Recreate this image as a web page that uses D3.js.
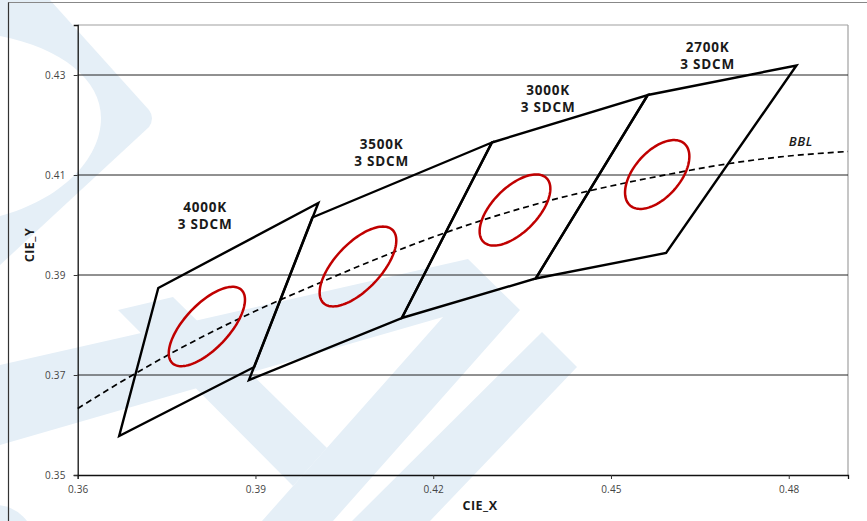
<!DOCTYPE html>
<html>
<head>
<meta charset="utf-8">
<script src="https://cdn.jsdelivr.net/npm/d3@7"></script>
<style>
  html, body { margin: 0; padding: 0; background: #fff; }
  svg { display: block; font-family: "Open Sans", sans-serif; }
</style>
</head>
<body>
<div id="chart"></div>
<script>
// ANSI C78.377 quadrangles, corners in order: top-left, top-right, bottom-right, bottom-left
const cctNames = ["4000K", "3500K", "3000K", "2700K"];
const quadX = [
    [0.3736, 0.4006, 0.3898, 0.3670],
    [0.3996, 0.4299, 0.4147, 0.3889],
    [0.4299, 0.4562, 0.4373, 0.4147],
    [0.4562, 0.4813, 0.4593, 0.4373]
];
const quadY = [
    [0.3874, 0.4044, 0.3716, 0.3578],
    [0.4015, 0.4165, 0.3814, 0.3690],
    [0.4165, 0.4260, 0.3893, 0.3814],
    [0.4260, 0.4319, 0.3944, 0.3893]
];

// 1-step MacAdam ellipses (centre, semi axes, tilt in degrees), drawn at 3 steps
const ellX = [0.3818, 0.4073, 0.4338, 0.4578];
const ellY = [0.3797, 0.3917, 0.4030, 0.4101];
const ellA = [0.00313, 0.00313, 0.00278, 0.00258];
const ellB = [0.00134, 0.00139, 0.00136, 0.00137];
const ellTheta = [53.72, 54.00, 53.22, 57.28];
const sdcmSteps = 3;

// black body locus
const bblX = [0.36, 0.37, 0.38, 0.39, 0.40, 0.41, 0.42, 0.43, 0.44, 0.45, 0.46, 0.47, 0.48, 0.49];
const bblY = [0.3633, 0.3705, 0.3770, 0.3828, 0.3880, 0.3930, 0.3976, 0.4016, 0.4050, 0.4078, 0.4102, 0.4123, 0.4138, 0.4147];

// label anchors (centre x, first baseline y) in chart units
const labelX = [0.3815, 0.4113, 0.4394, 0.4663];
const labelY = [0.4026, 0.4152, 0.4260, 0.4346];

const xTicks = [0.36, 0.39, 0.42, 0.45, 0.48];
const yTicks = [0.35, 0.37, 0.39, 0.41, 0.43];
const gridY = [0.37, 0.39, 0.41, 0.43];

const W = 867, H = 521;
const margin = {top: 25, right: 19, bottom: 46, left: 77.7};

const svg = d3.select("#chart").append("svg")
    .attr("width", W)
    .attr("height", H);

// faint logo in the background
const wm = svg.append("g").attr("fill", "#e5eff7");
wm.append("path").attr("fill-rule", "evenodd")
    .attr("d", "M0,0 L50,0 L149,110 Q155,118 149,127 L0,265 Z M0,36 C62,48 101,80 101,118 C101,160 60,200 0,216 Z");
wm.append("path").attr("d", "M0,365 L468,259 L520,310 L333,521 L262,521 L443,317 L0,445 Z");
wm.append("path").attr("d", "M542,332 L577,367 L430,521 L352,521 Z");
wm.append("path").attr("d", "M118,310 L173,297 L327,448 L293,486 Z");
wm.append("circle").attr("cx", -5).attr("cy", 545).attr("r", 40);

// outer frame
svg.append("line").attr("x1", 8).attr("x2", W).attr("y1", 2.5).attr("y2", 2.5)
    .attr("stroke", "#888").attr("stroke-width", 1.2);
svg.append("line").attr("x1", 8.5).attr("x2", 8.5).attr("y1", 2.5).attr("y2", H)
    .attr("stroke", "#333").attr("stroke-width", 1.2);

const x = d3.scaleLinear().domain([0.36, 0.49]).range([margin.left, W - margin.right]);
const y = d3.scaleLinear().domain([0.35, 0.44]).range([H - margin.bottom, margin.top]);

const x0 = x.range()[0], x1 = x.range()[1];
const yBot = y.range()[0], yTop = y.range()[1];

// plot border (top / right grey)
svg.append("line").attr("x1", x0).attr("x2", x1).attr("y1", yTop).attr("y2", yTop)
    .attr("stroke", "#a0a0a0").attr("stroke-width", 1.2);
svg.append("line").attr("x1", x1).attr("x2", x1).attr("y1", yTop).attr("y2", yBot)
    .attr("stroke", "#a0a0a0").attr("stroke-width", 1.2);

// grid lines
svg.append("g").selectAll("line")
    .data(gridY)
    .enter().append("line")
    .attr("x1", x0).attr("x2", x1)
    .attr("y1", d => y(d)).attr("y2", d => y(d))
    .attr("stroke", "#222").attr("stroke-width", 1);

// axes
const xAxis = svg.append("g")
    .attr("transform", "translate(0," + yBot + ")")
    .call(d3.axisBottom(x).tickValues(xTicks).tickSize(4).tickPadding(7).tickFormat(d3.format(".2f")));
const yAxis = svg.append("g")
    .attr("transform", "translate(" + x0 + ",0)")
    .call(d3.axisLeft(y).tickValues(yTicks).tickSize(4).tickPadding(8).tickFormat(d3.format(".2f")));
[xAxis, yAxis].forEach(function (g) {
    g.select(".domain").attr("stroke", "#111").attr("stroke-width", 1.3);
    g.selectAll(".tick line").attr("stroke", "#333");
    g.selectAll(".tick text")
        .attr("fill", "#444")
        .style("font-size", "10px")
        .style("letter-spacing", "0.2px")
        .style("font-family", "'Open Sans', sans-serif");
});

// BBL
const bbl = bblX.map((d, i) => [d, bblY[i]]);
svg.append("path")
    .datum(bbl)
    .attr("fill", "none")
    .attr("stroke", "#000")
    .attr("stroke-width", 1.7)
    .attr("stroke-dasharray", "6,4")
    .attr("d", d3.line().x(d => x(d[0])).y(d => y(d[1])).curve(d3.curveMonotoneX));

// quadrangles
const quadLine = d3.line().x(d => x(d[0])).y(d => y(d[1]));
svg.append("g").selectAll("path")
    .data(cctNames.map((n, i) => quadX[i].map((v, j) => [v, quadY[i][j]])))
    .enter().append("path")
    .attr("fill", "none")
    .attr("stroke", "#000")
    .attr("stroke-width", 2.4)
    .attr("stroke-linejoin", "miter")
    .attr("d", d => quadLine(d) + "Z");

// MacAdam ellipses
function ellipsePoints(i) {
    let pts = [];
    let a = ellA[i] * sdcmSteps, b = ellB[i] * sdcmSteps;
    let th = ellTheta[i] * Math.PI / 180;
    for (let k = 0; k < 120; k++) {
        let t = k / 120 * 2 * Math.PI;
        pts.push([
            ellX[i] + a * Math.cos(th) * Math.cos(t) - b * Math.sin(th) * Math.sin(t),
            ellY[i] + a * Math.sin(th) * Math.cos(t) + b * Math.cos(th) * Math.sin(t)
        ]);
    }
    return pts;
}
svg.append("g").selectAll("path")
    .data(cctNames.map((n, i) => ellipsePoints(i)))
    .enter().append("path")
    .attr("fill", "none")
    .attr("stroke", "#c00000")
    .attr("stroke-width", 2.5)
    .attr("d", d => d3.line().x(p => x(p[0])).y(p => y(p[1])).curve(d3.curveLinearClosed)(d));

// bin labels
const labels = svg.append("g")
    .style("font-family", "'Open Sans', sans-serif")
    .style("font-weight", 700)
    .style("font-size", "13.5px")
    .style("letter-spacing", "0.8px")
    .attr("fill", "#1a1a1a")
    .attr("text-anchor", "middle");
cctNames.forEach(function (name, i) {
    let t = labels.append("text")
        .attr("x", x(labelX[i]))
        .attr("y", y(labelY[i]));
    t.append("tspan").attr("x", x(labelX[i])).text(name);
    t.append("tspan").attr("x", x(labelX[i])).attr("dy", 17).text(sdcmSteps + " SDCM");
});

svg.append("text")
    .attr("x", x(0.4800))
    .attr("y", y(0.4158))
    .style("font-family", "'Open Sans', sans-serif")
    .style("font-weight", 600)
    .style("font-style", "italic")
    .style("font-size", "13px")
    .style("letter-spacing", "0.6px")
    .attr("fill", "#1a1a1a")
    .text("BBL");

// axis titles
svg.append("text")
    .attr("x", 480)
    .attr("y", 510)
    .attr("text-anchor", "middle")
    .style("font-family", "'Open Sans', sans-serif")
    .style("font-weight", 700)
    .style("font-size", "12.5px")
    .style("letter-spacing", "0.5px")
    .attr("fill", "#1a1a1a")
    .text("CIE_X");
svg.append("text")
    .attr("transform", "translate(34,245) rotate(-90)")
    .attr("text-anchor", "middle")
    .style("font-family", "'Open Sans', sans-serif")
    .style("font-weight", 700)
    .style("font-size", "12.5px")
    .style("letter-spacing", "0.5px")
    .attr("fill", "#1a1a1a")
    .text("CIE_Y");
</script>
</body>
</html>
